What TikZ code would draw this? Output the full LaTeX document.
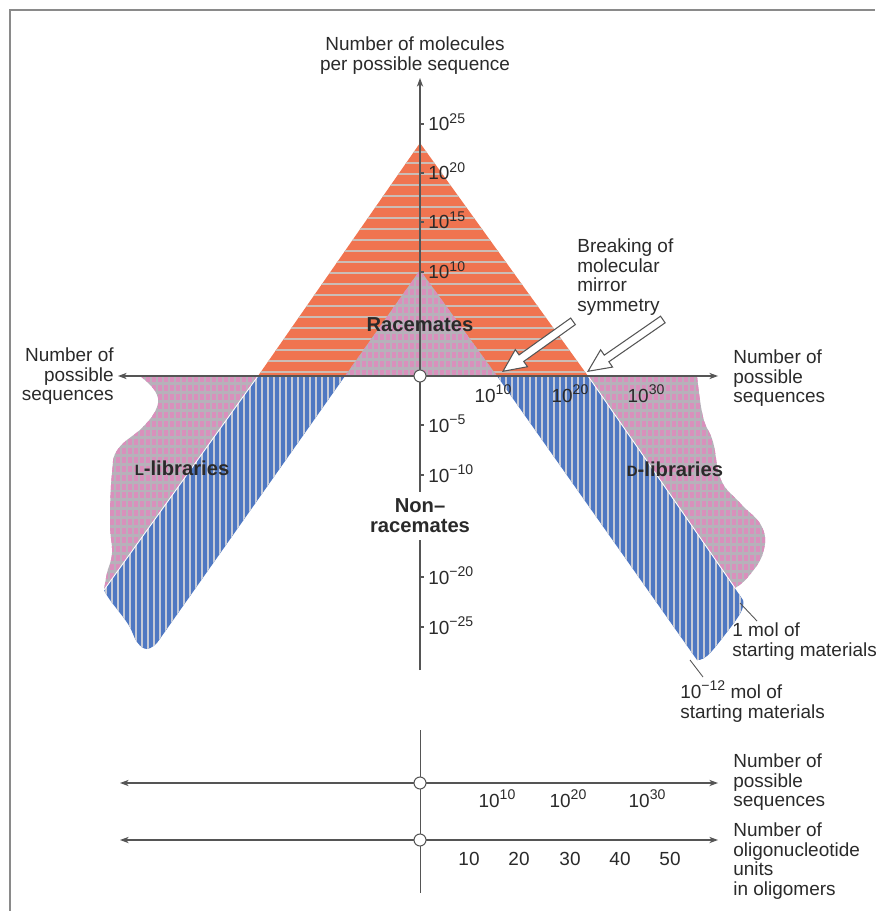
\documentclass[tikz,border=0pt]{standalone}
\usepackage{fontspec}
\setmainfont{Liberation Sans}
\usetikzlibrary{shapes.arrows,arrows.meta}

\definecolor{raceorange}{HTML}{F07450}
\definecolor{orangestripe}{HTML}{CBBDB6}
\definecolor{libblue}{HTML}{4F78C2}
\definecolor{bluestripe}{HTML}{C6CAD6}
\definecolor{pinkbase}{HTML}{B7B1BA}
\definecolor{pinkdot}{HTML}{D990BC}
\definecolor{axisgray}{HTML}{555555}
\definecolor{framegray}{HTML}{8A8A8A}
\definecolor{textdark}{HTML}{2A2A2A}

% small raised exponent
\newcommand{\ex}[1]{\raisebox{0.42em}{\fontsize{8}{8}\selectfont #1}}

% outlines of the coloured areas (pixel units)
\newcommand{\pathRace}{(258,376) -- (420,143) -- (588,376) -- cycle}
\newcommand{\pathRacePink}{(345,376) -- (420,270) -- (497,376) -- cycle}
\newcommand{\pathLlib}{(258,376) -- (140,376) -- plot[smooth, tension=0.7] coordinates {(140,376) (155,391) (157,407) (143,427) (118,449) (112,473) (110,523) (112,553) (107,573) (104,590)} -- cycle}
\newcommand{\pathDlib}{(588,376) -- (697,376) -- plot[smooth, tension=0.7] coordinates {(697,376) (703,417) (713,442) (721,480) (740,503) (762,527) (763,553) (748,577) (735,588)} -- cycle}
\newcommand{\pathLband}{(258,376) -- (345,376) -- (157,643) -- plot[smooth, tension=0.7] coordinates {(157,643) (147,649) (137,642) (128,624) (110,600) (104,590)} -- cycle}
\newcommand{\pathDband}{(497,376) -- (588,376) -- (743,600) -- plot[smooth, tension=0.7] coordinates {(743,600) (741,612) (724,636) (707,656) (697,660)} -- cycle}

\tikzset{
  axis/.style={draw=axisgray, line width=0.6pt},
  axistip/.style={axis, -{Stealth[length=5pt,width=3.6pt]}},
  axisboth/.style={axis, {Stealth[length=5pt,width=3.6pt]}-{Stealth[length=5pt,width=3.6pt]}},
  origin/.style={circle, draw=axisgray, fill=white, line width=0.6pt, minimum size=0.24cm, inner sep=0pt},
  lbl/.style={inner sep=0pt, text=textdark, font=\fontsize{10.8}{11.34}\selectfont},
  biglbl/.style={inner sep=1pt, text=textdark, font=\fontsize{11.5}{11.34}\selectfont\bfseries, align=center},
  hollowarrow/.style={single arrow, draw=axisgray, fill=white, line width=0.6pt, inner sep=0pt, inner ysep=0.07cm, single arrow head extend=0.13cm, single arrow tip angle=50, anchor=tip},
  leader/.style={draw=axisgray, line width=0.5pt},
  orangelines/.style={orangestripe, line width=1.5pt},
  bluelines/.style={bluestripe, line width=1.2pt},
  pinkdots/.style={pinkdot, line width=2.1pt, dash pattern=on 3.4pt off 1.7pt},
}

\begin{document}
\begin{tikzpicture}[x=0.02cm, y=-0.02cm]
  \useasboundingbox (0,0) rectangle (875,911);
  \draw[framegray, line width=0.8pt] (10,911) -- (10,10) -- (875,10);

  % racemates, striped orange
  \begin{scope}
    \clip \pathRace;
    \fill[raceorange] (250,140) rectangle (600,380);
    \foreach \y in {152,163,...,376} \draw[orangelines] (250,\y) -- (600,\y);
  \end{scope}
  % pink areas
  \begin{scope}
    \clip \pathRacePink;
    \fill[pinkbase] (340,265) rectangle (500,380);
    \foreach \x in {340,346,...,500} \draw[pinkdots] (\x,376) -- (\x,265);
  \end{scope}
  \begin{scope}
    \clip \pathLlib;
    \fill[pinkbase] (100,370) rectangle (262,600);
    \foreach \x in {100,106,...,262} \draw[pinkdots] (\x,376) -- (\x,600);
  \end{scope}
  \begin{scope}
    \clip \pathDlib;
    \fill[pinkbase] (584,370) rectangle (770,600);
    \foreach \x in {584,590,...,770} \draw[pinkdots] (\x,376) -- (\x,600);
  \end{scope}
  % blue bands
  \begin{scope}
    \clip \pathLband;
    \fill[libblue] (100,370) rectangle (350,655);
    \foreach \x in {100,106,...,350} \draw[bluelines] (\x,370) -- (\x,655);
  \end{scope}
  \begin{scope}
    \clip \pathDband;
    \fill[libblue] (494,370) rectangle (750,665);
    \foreach \x in {494,500,...,750} \draw[bluelines] (\x,370) -- (\x,665);
  \end{scope}
  \draw[white, line width=0.5pt] (258,376) -- (104,590);
  \draw[white, line width=0.5pt] (588,376) -- (735,588);

  % main axes
  \coordinate (ybot) at (420,670);
  \coordinate (ytop) at (420,78);
  \coordinate (xleft) at (118,376);
  \coordinate (xright) at (718,376);
  \draw[axistip] (ybot) -- (ytop);
  \draw[axisboth] (xleft) -- (xright);
  \foreach \y/\e in {124/25,173/20,222/15,272/10,425/−5,475/−10,577/−20,627/−25} {
    \draw[axis] (420,\y) -- (424,\y);
    \node[lbl, anchor=base west] at (428,\y+7) {10\ex{\e}};
  }
  \foreach \x/\e in {493/10,570/20,646/30}
    \node[lbl, anchor=base] at (\x,402) {10\ex{\e}};
  \node[origin] (O) at (420,376) {};

  % labels
  \node[lbl, align=center, anchor=north] (ylbl) at (415,36) {Number of molecules\\per possible sequence};
  \node[lbl, align=right, anchor=north east] (xlbll) at (114,347) {Number of\\possible\\sequences};
  \node[lbl, align=left, anchor=north west] (xlblr) at (733,349) {Number of\\possible\\sequences};
  \node[lbl, align=left, anchor=north west] (brk) at (577,238) {Breaking of\\molecular\\mirror\\symmetry};
  \node[biglbl, inner sep=0pt] (race) at (420,325) {Racemates};
  \node[biglbl, fill=white, inner xsep=2pt, inner ysep=4pt] (nonrace) at (420,516) {Non–\\racemates};
  \node[biglbl] (llib) at (182,468) {{\fontsize{8.5}{8}\selectfont L}-libraries};
  \node[biglbl] (dlib) at (675,469) {{\fontsize{8.5}{8}\selectfont D}-libraries};

  % breaking arrows
  \coordinate (tip1) at (502,372);
  \coordinate (tip2) at (587,372);
  \node[hollowarrow, minimum height=1.72cm, rotate=215.5] (brk1) at (tip1) {};
  \node[hollowarrow, minimum height=1.82cm, rotate=214.7] (brk2) at (tip2) {};

  % starting materials
  \coordinate (m1a) at (740,603);
  \coordinate (m1b) at (757,621);
  \coordinate (m12a) at (690,660);
  \coordinate (m12b) at (703,677);
  \draw[leader] (m1a) -- (m1b);
  \draw[leader] (m12a) -- (m12b);
  \node[lbl, align=left, anchor=north west] (mol1) at (732,622) {1 mol of\\starting materials};
  \node[lbl, align=left, anchor=north west] (mol12) at (680,680) {10\ex{−12} mol of\\starting materials};

  % lower scales
  \coordinate (vtop) at (420,730);
  \coordinate (vbot) at (420,893);
  \coordinate (s1l) at (120,783);
  \coordinate (s1r) at (718,783);
  \coordinate (s2l) at (120,840);
  \coordinate (s2r) at (718,840);
  \draw[axis, line width=0.4pt] (vtop) -- (vbot);
  \draw[axisboth] (s1l) -- (s1r);
  \draw[axisboth] (s2l) -- (s2r);
  \node[origin] (O1) at (420,783) {};
  \node[origin] (O2) at (420,840) {};
  \foreach \x/\e in {497/10,568/20,647/30}
    \node[lbl, anchor=base] at (\x,807) {10\ex{\e}};
  \foreach \x/\n in {469/10,519/20,570/30,620/40,670/50}
    \node[lbl, anchor=base] at (\x,865) {\n};
  \node[lbl, align=left, anchor=north west] (seqlbl) at (733,753) {Number of\\possible\\sequences};
  \node[lbl, align=left, anchor=north west] (unitlbl) at (733,822) {Number of\\oligonucleotide\\units\\in oligomers};
\end{tikzpicture}
\end{document}
